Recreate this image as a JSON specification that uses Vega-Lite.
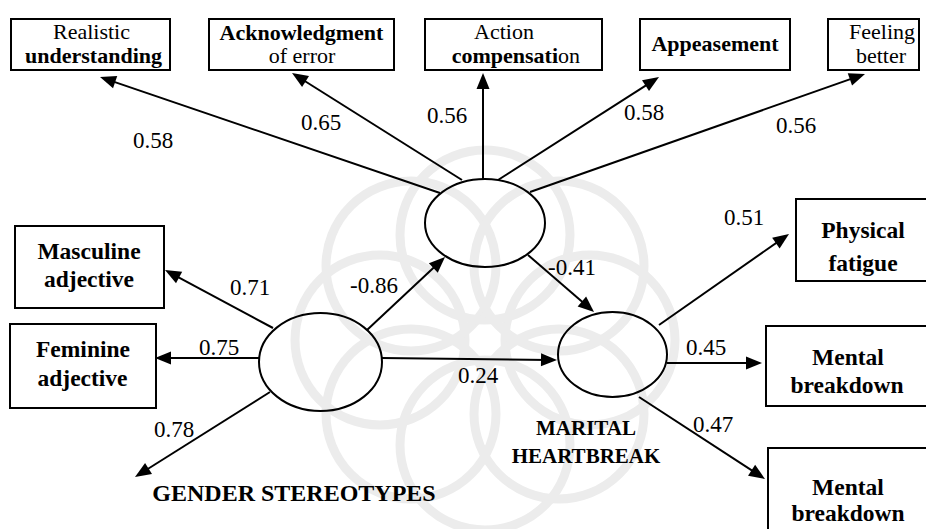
{
  "$schema": "https://vega.github.io/schema/vega-lite/v6.json",
  "width": 926,
  "height": 529,
  "autosize": "none",
  "padding": 0,
  "background": "white",
  "config": {"view": {"stroke": null}, "text": {"font": "Times New Roman, Liberation Serif, Tinos, DejaVu Serif, serif", "color": "black"}},
  "datasets": {
    "water": [
      {"x": 590, "y": 340}, {"x": 559, "y": 414}, {"x": 485, "y": 445}, {"x": 411, "y": 414},
      {"x": 380, "y": 340}, {"x": 411, "y": 266}, {"x": 485, "y": 235}, {"x": 559, "y": 266}
    ],
    "boxes": [
      {"id": "realistic", "x1": 11, "x2": 170, "y1": 19, "y2": 70},
      {"id": "ack", "x1": 209, "x2": 394, "y1": 19, "y2": 70},
      {"id": "action", "x1": 425, "x2": 602, "y1": 19, "y2": 70},
      {"id": "appease", "x1": 640, "x2": 790, "y1": 19, "y2": 70},
      {"id": "feeling", "x1": 828, "x2": 919, "y1": 19, "y2": 70},
      {"id": "masculine", "x1": 15, "x2": 164, "y1": 226, "y2": 308},
      {"id": "feminine", "x1": 10, "x2": 156, "y1": 324, "y2": 408},
      {"id": "physical", "x1": 796, "x2": 945, "y1": 199, "y2": 281},
      {"id": "mental1", "x1": 766, "x2": 945, "y1": 326, "y2": 406},
      {"id": "mental2", "x1": 768, "x2": 945, "y1": 448, "y2": 545}
    ],
    "ellipses": [
      {"node": "top", "x": 485, "y": 223},
      {"node": "gs", "x": 320.5, "y": 362},
      {"node": "mh", "x": 612.5, "y": 354.5}
    ],
    "arrows": [
      {"to": "realistic", "sx": 440, "sy": 193, "tx": 100, "ty": 77},
      {"to": "ack", "sx": 462, "sy": 180, "tx": 292, "ty": 73},
      {"to": "action", "sx": 483, "sy": 179, "tx": 483, "ty": 73},
      {"to": "appease", "sx": 498, "sy": 180, "tx": 659, "ty": 77},
      {"to": "feeling", "sx": 530, "sy": 192, "tx": 865, "ty": 74},
      {"to": "top", "sx": 367, "sy": 330, "tx": 445, "ty": 257},
      {"to": "mh", "sx": 528, "sy": 255, "tx": 594, "ty": 312},
      {"to": "mh2", "sx": 382, "sy": 358, "tx": 557, "ty": 360},
      {"to": "masculine", "sx": 273, "sy": 328, "tx": 165, "ty": 270},
      {"to": "feminine", "sx": 259, "sy": 358, "tx": 155, "ty": 358},
      {"to": "gs3", "sx": 270, "sy": 392, "tx": 135, "ty": 477},
      {"to": "physical", "sx": 659, "sy": 325, "tx": 789, "ty": 234},
      {"to": "mental1", "sx": 667, "sy": 363, "tx": 762, "ty": 363},
      {"to": "mental2", "sx": 639, "sy": 397, "tx": 765, "ty": 479}
    ],
    "texts": [
      {"kind": "topReg", "t": "Realistic", "x": 91.5, "y": 39},
      {"kind": "topBold", "t": "understanding", "x": 93.5, "y": 63},
      {"kind": "topBold", "t": "Acknowledgment", "x": 301.5, "y": 40},
      {"kind": "topReg", "t": "of error", "x": 302, "y": 63},
      {"kind": "topReg", "t": "Action", "x": 504, "y": 39},
      {"kind": "topBoldR", "t": "compensati", "x": 558, "y": 63},
      {"kind": "topRegL", "t": "on", "x": 558, "y": 63},
      {"kind": "topBold", "t": "Appeasement", "x": 715, "y": 51},
      {"kind": "topReg", "t": "Feeling", "x": 882, "y": 39},
      {"kind": "topReg", "t": "better", "x": 881, "y": 63},
      {"kind": "lowBold", "t": "Masculine", "x": 89, "y": 259},
      {"kind": "lowBold", "t": "adjective", "x": 89, "y": 287},
      {"kind": "lowBold", "t": "Feminine", "x": 83, "y": 357},
      {"kind": "lowBold", "t": "adjective", "x": 82.5, "y": 386},
      {"kind": "lowBold", "t": "Physical", "x": 863, "y": 238},
      {"kind": "lowBold", "t": "fatigue", "x": 863, "y": 271},
      {"kind": "lowBold", "t": "Mental", "x": 848, "y": 365},
      {"kind": "lowBold", "t": "breakdown", "x": 847, "y": 393},
      {"kind": "lowBold", "t": "Mental", "x": 848, "y": 495},
      {"kind": "lowBold", "t": "breakdown", "x": 848, "y": 521},
      {"kind": "num", "t": "0.58", "x": 153, "y": 148},
      {"kind": "num", "t": "0.65", "x": 321, "y": 130},
      {"kind": "num", "t": "0.56", "x": 447, "y": 123},
      {"kind": "num", "t": "0.58", "x": 644, "y": 120},
      {"kind": "num", "t": "0.56", "x": 796, "y": 133},
      {"kind": "num", "t": "0.71", "x": 250, "y": 295},
      {"kind": "num", "t": "0.75", "x": 219, "y": 355},
      {"kind": "num", "t": "0.78", "x": 174, "y": 437},
      {"kind": "num", "t": "-0.86", "x": 374, "y": 293},
      {"kind": "num", "t": "-0.41", "x": 572, "y": 275},
      {"kind": "num", "t": "0.24", "x": 478, "y": 383},
      {"kind": "num", "t": "0.51", "x": 744, "y": 225},
      {"kind": "num", "t": "0.45", "x": 706, "y": 355},
      {"kind": "num", "t": "0.47", "x": 713, "y": 432},
      {"kind": "titleGS", "t": "GENDER STEREOTYPES", "x": 294, "y": 501},
      {"kind": "titleMH", "t": "MARITAL", "x": 586, "y": 435},
      {"kind": "titleMH", "t": "HEARTBREAK", "x": 586, "y": 463}
    ]
  },
  "layer": [
    {
      "data": {"name": "water"},
      "mark": {"type": "point", "shape": "circle", "filled": false, "size": 28900, "stroke": "#ececec", "strokeWidth": 9, "opacity": 1},
      "encoding": {
        "x": {"field": "x", "type": "quantitative", "scale": {"domain": [0, 926], "nice": false, "zero": false}, "axis": null},
        "y": {"field": "y", "type": "quantitative", "scale": {"domain": [0, 529], "reverse": true, "nice": false, "zero": false}, "axis": null}
      }
    },
    {
      "data": {"name": "arrows"},
      "transform": [
        {"calculate": "datum.tx - datum.sx", "as": "dx"},
        {"calculate": "datum.ty - datum.sy", "as": "dy"},
        {"calculate": "sqrt(datum.dx*datum.dx + datum.dy*datum.dy)", "as": "len"},
        {"calculate": "datum.tx - datum.dx/datum.len*8", "as": "ex"},
        {"calculate": "datum.ty - datum.dy/datum.len*8", "as": "ey"}
      ],
      "mark": {"type": "rule", "color": "black", "strokeWidth": 2},
      "encoding": {
        "x": {"field": "sx", "type": "quantitative"},
        "y": {"field": "sy", "type": "quantitative"},
        "x2": {"field": "ex"},
        "y2": {"field": "ey"}
      }
    },
    {
      "data": {"name": "arrows"},
      "transform": [
        {"calculate": "atan2(datum.tx - datum.sx, datum.sy - datum.ty) * 180 / PI", "as": "ang"}
      ],
      "mark": {"type": "point", "shape": "M0,0L-6.5,16L6.5,16Z", "filled": true, "color": "black", "size": 4, "opacity": 1},
      "encoding": {
        "x": {"field": "tx", "type": "quantitative"},
        "y": {"field": "ty", "type": "quantitative"},
        "angle": {"field": "ang", "type": "quantitative", "scale": null}
      }
    },
    {
      "data": {"name": "ellipses"},
      "mark": {"type": "point", "filled": false, "stroke": "black", "strokeWidth": 2, "size": 4, "opacity": 1},
      "encoding": {
        "x": {"field": "x", "type": "quantitative"},
        "y": {"field": "y", "type": "quantitative"},
        "shape": {
          "field": "node", "type": "nominal", "legend": null,
          "scale": {
            "domain": ["top", "gs", "mh"],
            "range": [
              "M-60,0A60,44 0 1,0 60,0A60,44 0 1,0 -60,0Z",
              "M-61.5,0A61.5,49 0 1,0 61.5,0A61.5,49 0 1,0 -61.5,0Z",
              "M-54.5,0A54.5,42.5 0 1,0 54.5,0A54.5,42.5 0 1,0 -54.5,0Z"
            ]
          }
        }
      }
    },
    {
      "data": {"name": "boxes"},
      "mark": {"type": "rect", "fill": "white", "stroke": "black", "strokeWidth": 2, "clip": true},
      "encoding": {
        "x": {"field": "x1", "type": "quantitative"},
        "x2": {"field": "x2"},
        "y": {"field": "y1", "type": "quantitative"},
        "y2": {"field": "y2"}
      }
    },
    {
      "data": {"name": "texts"},
      "transform": [{"filter": "datum.kind === 'topReg'"}],
      "mark": {"type": "text", "fontSize": 22, "align": "center", "baseline": "alphabetic"},
      "encoding": {"x": {"field": "x", "type": "quantitative"}, "y": {"field": "y", "type": "quantitative"}, "text": {"field": "t"}}
    },
    {
      "data": {"name": "texts"},
      "transform": [{"filter": "datum.kind === 'topBold'"}],
      "mark": {"type": "text", "fontSize": 22, "fontWeight": "bold", "align": "center", "baseline": "alphabetic"},
      "encoding": {"x": {"field": "x", "type": "quantitative"}, "y": {"field": "y", "type": "quantitative"}, "text": {"field": "t"}}
    },
    {
      "data": {"name": "texts"},
      "transform": [{"filter": "datum.kind === 'topBoldR'"}],
      "mark": {"type": "text", "fontSize": 22, "fontWeight": "bold", "align": "right", "baseline": "alphabetic"},
      "encoding": {"x": {"field": "x", "type": "quantitative"}, "y": {"field": "y", "type": "quantitative"}, "text": {"field": "t"}}
    },
    {
      "data": {"name": "texts"},
      "transform": [{"filter": "datum.kind === 'topRegL'"}],
      "mark": {"type": "text", "fontSize": 22, "align": "left", "baseline": "alphabetic"},
      "encoding": {"x": {"field": "x", "type": "quantitative"}, "y": {"field": "y", "type": "quantitative"}, "text": {"field": "t"}}
    },
    {
      "data": {"name": "texts"},
      "transform": [{"filter": "datum.kind === 'lowBold'"}],
      "mark": {"type": "text", "fontSize": 23.5, "fontWeight": "bold", "align": "center", "baseline": "alphabetic"},
      "encoding": {"x": {"field": "x", "type": "quantitative"}, "y": {"field": "y", "type": "quantitative"}, "text": {"field": "t"}}
    },
    {
      "data": {"name": "texts"},
      "transform": [{"filter": "datum.kind === 'num'"}],
      "mark": {"type": "text", "fontSize": 23, "align": "center", "baseline": "alphabetic"},
      "encoding": {"x": {"field": "x", "type": "quantitative"}, "y": {"field": "y", "type": "quantitative"}, "text": {"field": "t"}}
    },
    {
      "data": {"name": "texts"},
      "transform": [{"filter": "datum.kind === 'titleGS'"}],
      "mark": {"type": "text", "fontSize": 24, "fontWeight": "bold", "align": "center", "baseline": "alphabetic"},
      "encoding": {"x": {"field": "x", "type": "quantitative"}, "y": {"field": "y", "type": "quantitative"}, "text": {"field": "t"}}
    },
    {
      "data": {"name": "texts"},
      "transform": [{"filter": "datum.kind === 'titleMH'"}],
      "mark": {"type": "text", "fontSize": 21, "fontWeight": "bold", "align": "center", "baseline": "alphabetic"},
      "encoding": {"x": {"field": "x", "type": "quantitative"}, "y": {"field": "y", "type": "quantitative"}, "text": {"field": "t"}}
    }
  ]
}
